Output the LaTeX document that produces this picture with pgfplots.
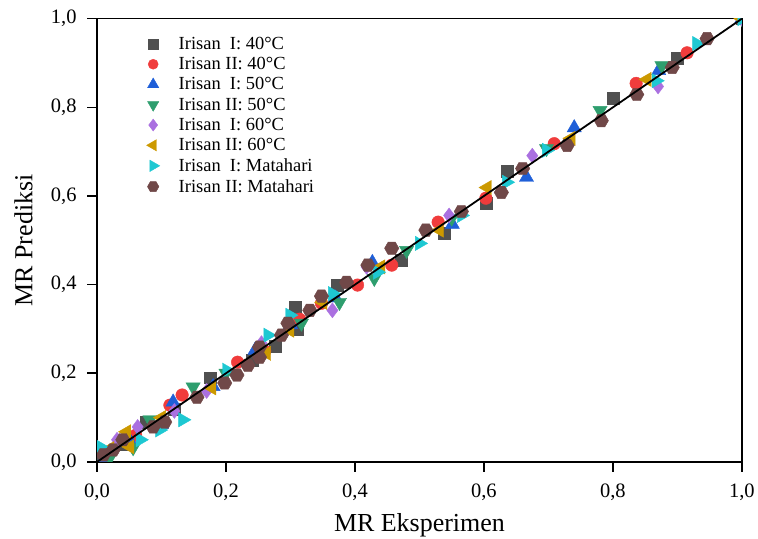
\documentclass[border={13.5pt 0pt 0pt 7pt}]{standalone}
\usepackage{fontspec}
\setmainfont{Liberation Serif}
\usepackage{pgfplots}
\pgfplotsset{compat=1.18}

\definecolor{sqgray}{HTML}{505050}
\definecolor{cired}{HTML}{F03C3C}
\definecolor{trblue}{HTML}{1F5FD8}
\definecolor{trgreen}{HTML}{2E9E6E}
\definecolor{dipurple}{HTML}{AA70E0}
\definecolor{trgold}{HTML}{CC9900}
\definecolor{trcyan}{HTML}{1EC8D2}
\definecolor{hexbrown}{HTML}{704848}

% flat hexagon mark
\pgfdeclareplotmark{hexagon*}{%
  \pgfpathmoveto{\pgfqpointpolar{0}{\pgfplotmarksize}}%
  \pgfpathlineto{\pgfqpointpolar{60}{\pgfplotmarksize}}%
  \pgfpathlineto{\pgfqpointpolar{120}{\pgfplotmarksize}}%
  \pgfpathlineto{\pgfqpointpolar{180}{\pgfplotmarksize}}%
  \pgfpathlineto{\pgfqpointpolar{240}{\pgfplotmarksize}}%
  \pgfpathlineto{\pgfqpointpolar{300}{\pgfplotmarksize}}%
  \pgfpathclose
  \pgfusepathqfillstroke
}

\begin{document}
\begin{tikzpicture}
\begin{axis}[
    scale only axis,
    width=646pt,
    height=444pt,
    xmin=0, xmax=1,
    ymin=0, ymax=1,
    clip marker paths=true,
    xtick={0,0.2,0.4,0.6,0.8,1},
    ytick={0,0.2,0.4,0.6,0.8,1},
    xtick pos=bottom,
    ytick pos=left,
    tick align=outside,
    major tick length=10pt,
    axis line style={line width=1.6pt},
    every tick/.style={black, line width=1.6pt},
    tick label style={font=\fontsize{20.5}{22}\selectfont,
        /pgf/number format/fixed, /pgf/number format/fixed zerofill,
        /pgf/number format/precision=1, /pgf/number format/use comma,
        /pgf/number format/assume math mode=true},
    xticklabel style={yshift=-8pt},
    yticklabel style={xshift=-7pt},
    xlabel={MR Eksperimen},
    ylabel={MR Prediksi},
    label style={font=\fontsize{26}{28}\selectfont, inner sep=1pt},
    xlabel style={yshift=-9pt},
    ylabel style={yshift=13.7pt},
    legend style={draw=none, fill=none, at={(0.072,0.968)}, anchor=north west,
        font=\fontsize{18.5}{20}\selectfont, row sep=2.5pt,
        /tikz/every odd column/.append style={column sep=17pt}},
    legend image post style={scale=0.8},
    legend cell align=left,
    only marks,
]
% Irisan I: 40C
\addplot[mark=square*, mark size=6pt, draw=sqgray, fill=sqgray] coordinates {
(0.0,0.0) (0.04,0.04) (0.077,0.09) (0.12,0.12) (0.175,0.19) (0.24,0.23) (0.276,0.261)
(0.31,0.30) (0.307,0.349) (0.373,0.399) (0.472,0.455) (0.539,0.516) (0.604,0.583)
(0.636,0.655) (0.80,0.82) (0.90,0.91) (1.0,1.0)};
\addlegendentry{Irisan\ \ I: 40°C}
% Irisan II: 40C
\addplot[mark=*, mark size=6.3pt, draw=cired, fill=cired] coordinates {
(0.02,0.02) (0.06,0.06) (0.113,0.128) (0.132,0.151) (0.218,0.225) (0.26,0.25)
(0.314,0.322) (0.348,0.358) (0.404,0.399) (0.457,0.444) (0.529,0.541) (0.603,0.595)
(0.709,0.718) (0.836,0.854) (0.915,0.923) (1.0,1.0)};
\addlegendentry{Irisan II: 40°C}
% Irisan I: 50C
\addplot[mark=triangle*, mark size=8.2pt, draw=trblue, fill=trblue] coordinates {
(0.01,0.005) (0.05,0.05) (0.10,0.085) (0.118,0.135) (0.18,0.17) (0.245,0.252)
(0.30,0.31) (0.37,0.37) (0.427,0.45) (0.551,0.536) (0.666,0.642) (0.74,0.754)
(0.871,0.883) (1.0,1.0)};
\addlegendentry{Irisan\ \ I: 50°C}
% Irisan II: 50C
\addplot[mark=triangle*, mark size=8.2pt, draw=trgreen, fill=trgreen, mark options={rotate=180}] coordinates {
(0.02,0.01) (0.056,0.032) (0.082,0.095) (0.149,0.169) (0.20,0.20) (0.317,0.313)
(0.376,0.36) (0.43,0.414) (0.48,0.477) (0.55,0.55) (0.697,0.707) (0.78,0.793)
(0.876,0.894) (1.0,1.0)};
\addlegendentry{Irisan II: 50°C}
% Irisan I: 60C
\addplot[mark=diamond*, mark size=7.5pt, draw=dipurple, fill=dipurple] coordinates {
(0.01,0.02) (0.031,0.05) (0.063,0.079) (0.12,0.115) (0.17,0.16) (0.255,0.268)
(0.365,0.342) (0.418,0.44) (0.546,0.556) (0.675,0.691) (0.87,0.847) (1.0,1.0)};
\addlegendentry{Irisan\ \ I: 60°C}
% Irisan II: 60C
\addplot[mark=triangle*, mark size=8.2pt, draw=trgold, fill=trgold, mark options={rotate=90}] coordinates {
(0.02,0.03) (0.046,0.068) (0.051,0.034) (0.10,0.10) (0.178,0.167) (0.263,0.245)
(0.299,0.297) (0.35,0.36) (0.44,0.44) (0.531,0.523) (0.605,0.619) (0.735,0.73)
(0.853,0.863) (1.0,1.0)};
\addlegendentry{Irisan II: 60°C}
% Irisan I: Matahari
\addplot[mark=triangle*, mark size=8.2pt, draw=trcyan, fill=trcyan, mark options={rotate=-90}] coordinates {
(0.005,0.034) (0.067,0.05) (0.097,0.072) (0.133,0.095) (0.201,0.207) (0.265,0.286)
(0.299,0.331) (0.365,0.38) (0.435,0.428) (0.50,0.493) (0.565,0.556) (0.635,0.631)
(0.697,0.703) (0.867,0.86) (0.93,0.944) (1.0,1.0)};
\addlegendentry{Irisan\ \ I: Matahari}
% Irisan II: Matahari
\addplot[mark=hexagon*, mark size=7.2pt, draw=hexbrown, fill=hexbrown] coordinates {
(0.01,0.016) (0.025,0.027) (0.04,0.05) (0.087,0.079) (0.105,0.09) (0.155,0.146)
(0.198,0.178) (0.217,0.196) (0.234,0.218) (0.252,0.236) (0.252,0.259) (0.286,0.286)
(0.296,0.313) (0.33,0.342) (0.348,0.374) (0.387,0.405) (0.42,0.444) (0.457,0.482)
(0.51,0.523) (0.565,0.565) (0.627,0.608) (0.66,0.662) (0.729,0.714) (0.782,0.77)
(0.837,0.829) (0.892,0.89) (0.946,0.955)};
\addlegendentry{Irisan II: Matahari}
% 1:1 line
\addplot[sharp plot, no marks, black, line width=1.8pt, forget plot] coordinates {(0,0) (1,1)};
\end{axis}
\end{tikzpicture}
\end{document}
